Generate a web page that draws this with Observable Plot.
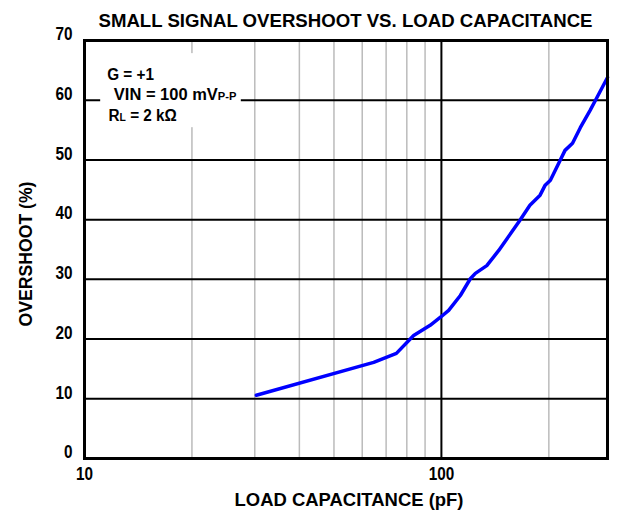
<!DOCTYPE html>
<html><head><meta charset="utf-8">
<script src="https://cdn.jsdelivr.net/npm/d3@7"></script>
<script src="https://cdn.jsdelivr.net/npm/@observablehq/plot@0.6"></script>
<style>body{margin:0;background:#fff}</style>
</head><body><div id="chart"></div>
<script>
const title = "SMALL SIGNAL OVERSHOOT VS. LOAD CAPACITANCE";
const xLabel = "LOAD CAPACITANCE (pF)";
const yLabel = "OVERSHOOT (%)";
const capacitance = [30.3, 64.6, 74.8, 83.6, 93, 99.6, 104.8, 113, 120.5, 124.5, 134, 144.6, 166, 177, 189, 195, 202, 213, 222, 233, 245, 261, 273, 292];
const overshoot   = [10.6, 16.1, 17.6, 20.6, 22.3, 23.7, 24.8, 27.3, 30.1, 31.0, 32.3, 34.8, 39.9, 42.4, 44.1, 45.7, 46.6, 49.4, 51.6, 52.8, 55.4, 58.3, 60.5, 63.8];
const xDomain = [10, 292];
const yDomain = [0, 70];
const xTicks = [10, 100];
const yTicks = [0, 10, 20, 30, 40, 50, 60, 70];
const minorX = [20, 30, 40, 50, 60, 70, 80, 90, 200];
const majorX = [100];
const hGrid = [10, 20, 30, 40, 50, 60];
const legendBox = [{x1: 11.1, x2: 27.5, y1: 55.4, y2: 67.8}];
const legendLines = [
  {x: 13.5, y: 63.3, scale: 0.9, parts: [["G = +1", false]]},
  {x: 18.0, y: 59.95, scale: 0.97, parts: [["VIN = 100 mV", false], ["P-P", true]]},
  {x: 14.6, y: 56.4, scale: 0.9, parts: [["R", false], ["L", true], [" = 2 kΩ", false]]}
];

const data = capacitance.map((c, i) => ({c, o: overshoot[i]}));
const font = "'Liberation Sans', Arial, sans-serif";

const plot = Plot.plot({
  width: 617, height: 519,
  marginLeft: 84, marginRight: 10, marginTop: 40, marginBottom: 61,
  style: {fontFamily: font, fontWeight: "bold", fontSize: "18px", color: "black", background: "white"},
  x: {type: "log", domain: xDomain},
  y: {domain: yDomain},
  marks: [
    Plot.ruleX(minorX, {stroke: "#bbb", strokeWidth: 1.5}),
    Plot.ruleX(majorX, {stroke: "black", strokeWidth: 2}),
    Plot.ruleY(hGrid, {stroke: "black", strokeWidth: 2}),
    Plot.rect(legendBox, {x1: "x1", x2: "x2", y1: "y1", y2: "y2", fill: "white"}),
    Plot.line(data, {x: "c", y: "o", stroke: "#0000ff", strokeWidth: 3.5}),
    Plot.frame({stroke: "black", strokeWidth: 3}),
    Plot.axisY(yTicks, {tickSize: 0, tickPadding: 12, dy: -6, label: null, tickFormat: d => String(d), fontSize: 18}),
    Plot.axisX(xTicks, {tickSize: 0, tickPadding: 9, label: null, tickFormat: d => String(d), fontSize: 18})
  ]
});

document.getElementById("chart").append(plot);
const svg = d3.select(plot);
// narrow-looking tick labels
svg.selectAll("g[aria-label$='tick label']").style("font-size", "18px").attr("font-size", 18);
svg.selectAll("g[aria-label$='tick label'] text").each(function() {
  const t = d3.select(this);
  const tr = t.attr("transform") || "";
  t.attr("transform", tr + " scale(0.85,1)");
});

function addText(str, size, len, transform) {
  return svg.append("text").text(str)
    .attr("transform", transform)
    .attr("text-anchor", "middle")
    .attr("textLength", len).attr("lengthAdjust", "spacingAndGlyphs")
    .style("font-family", font).style("font-weight", "bold").style("font-size", size + "px");
}
addText(title, 19, 494, "translate(345.5,27)");
addText(xLabel, 19, 229, "translate(349,506)");
addText(yLabel, 19, 145, "translate(32,254) rotate(-90)");

const sx = plot.scale("x"), sy = plot.scale("y");
legendLines.forEach(l => {
  const t = svg.append("text")
    .attr("transform", `translate(${sx.apply(l.x)},${sy.apply(l.y)}) scale(${l.scale},1)`)
    .attr("text-anchor", "middle")
    .style("font-family", font).style("font-weight", "bold").style("font-size", "17px");
  l.parts.forEach(([s, sub]) => {
    const ts = t.append("tspan").text(s);
    if (sub) ts.style("font-size", "11.5px");
  });
});
</script></body></html>
